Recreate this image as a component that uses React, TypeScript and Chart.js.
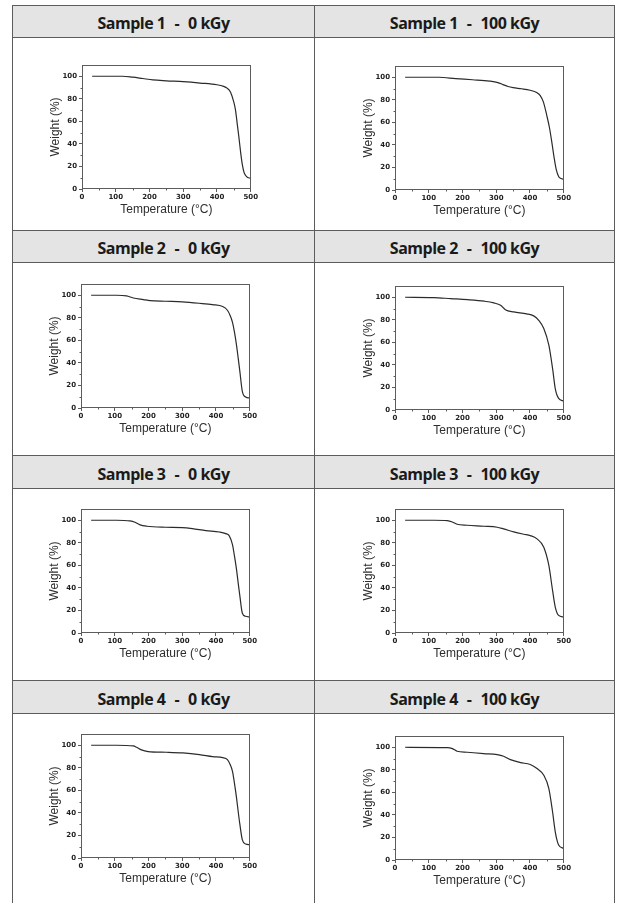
import React, { useEffect, useRef } from 'react';
import { Chart, registerables } from 'chart.js';

Chart.register(...registerables);

// ---- Data ----
const S1_0_T = [30, 120, 150, 180, 210, 250, 300, 350, 400, 420, 430, 440, 450, 455, 460, 465, 470, 475, 480, 485, 490, 500];
const S1_0_W = [100, 100, 99.2, 98, 96.8, 96, 95.2, 94, 92.5, 91, 89.5, 86, 77, 70, 58, 46, 33, 22, 15, 12, 10.5, 9.5];

const S1_100_T = [30, 130, 180, 230, 280, 305, 320, 335, 350, 375, 400, 420, 430, 440, 450, 458, 465, 472, 478, 485, 492, 500];
const S1_100_W = [100, 100, 98.8, 97.8, 96.6, 95.3, 93.5, 91.8, 90.8, 89.8, 88.5, 86.5, 84, 78, 66, 55, 42, 28, 18, 12, 10.2, 9.5];

const S2_0_T = [30, 105, 135, 155, 185, 205, 250, 300, 350, 390, 420, 434, 442, 449, 455, 461, 466, 471, 478, 488, 500];
const S2_0_W = [100, 100, 99.4, 97.6, 96.2, 95.3, 94.7, 94.1, 92.9, 91.7, 90, 86.7, 82, 76, 67, 55.6, 44, 32, 15, 9.8, 8.9];

const S2_100_T = [30, 115, 165, 215, 265, 293, 313, 327, 352, 390, 411, 426, 441, 456, 467, 475, 485, 500];
const S2_100_W = [100, 99.7, 98.8, 97.9, 96.5, 95, 92.9, 89, 87, 85.3, 83.5, 79.6, 72.3, 57.5, 36.9, 19, 10.3, 8];

const S3_0_T = [30, 105, 145, 160, 175, 195, 250, 300, 330, 370, 410, 429, 439, 449, 455, 461, 466, 471, 478, 488, 500];
const S3_0_W = [100, 100, 99.4, 98.2, 95.9, 94.7, 93.8, 93.5, 92.6, 90.8, 89.6, 88.2, 86.4, 78.4, 68, 56.2, 44, 32.5, 17.8, 14.8, 14.2];

const S3_100_T = [30, 115, 155, 170, 184, 214, 263, 303, 322, 352, 382, 401, 421, 441, 456, 467, 475, 485, 500];
const S3_100_W = [100, 100, 99.7, 98.5, 96.5, 95.6, 94.7, 93.8, 92.3, 89.7, 87.6, 86.4, 83.5, 76.1, 59.9, 37.8, 23, 15.6, 14.2];

const S4_0_T = [30, 105, 155, 165, 179, 199, 253, 302, 351, 390, 420, 434, 442, 449, 455, 461, 466, 471, 478, 488, 500];
const S4_0_W = [100, 100, 99.4, 98.2, 95.9, 94.4, 93.8, 93.2, 91.7, 89.9, 89, 87.3, 83, 76.9, 66, 53.3, 41, 29.6, 16.3, 12.4, 11.8];

const S4_100_T = [30, 155, 170, 184, 214, 263, 303, 322, 342, 372, 401, 421, 441, 456, 467, 475, 485, 500];
const S4_100_W = [100, 99.7, 98.8, 96.5, 95.6, 94.4, 93.5, 92, 89, 86.4, 84.7, 81.1, 75.2, 63.4, 42.8, 25, 13.3, 10.3];

const X_MAJOR = [0, 100, 200, 300, 400, 500];
const X_MINOR = [50, 150, 250, 350, 450];
const Y_MAJOR = [0, 20, 40, 60, 80, 100];
const Y_MINOR = [10, 30, 50, 70, 90];

const SAMPLE_NAMES = ['Sample 1', 'Sample 2', 'Sample 3', 'Sample 4'];
const DOSES = ['0 kGy', '100 kGy'];
const X_TITLE = 'Temperature (°C)';
const Y_TITLE = 'Weight (%)';

// ---- Layout ----
const PW = 169;
const PH = 124;
const HEADER_TOPS = [5, 230, 455, 680];
const HEADER_HEIGHTS = [33, 33, 34, 34];
const PLOTS = [
  { pl: 82, pt: 65, t: S1_0_T, w: S1_0_W },
  { pl: 395, pt: 66, t: S1_100_T, w: S1_100_W },
  { pl: 81, pt: 284, t: S2_0_T, w: S2_0_W },
  { pl: 395, pt: 286, t: S2_100_T, w: S2_100_W },
  { pl: 81, pt: 509, t: S3_0_T, w: S3_0_W },
  { pl: 395, pt: 509, t: S3_100_T, w: S3_100_W },
  { pl: 81, pt: 734, t: S4_0_T, w: S4_0_W },
  { pl: 395, pt: 736, t: S4_100_T, w: S4_100_W },
];

const FRAME = '#5c5c5c';

const framePlugin = {
  id: 'frame',
  afterDraw(chart: any) {
    const { ctx, chartArea: a, scales } = chart;
    ctx.save();
    ctx.strokeStyle = FRAME;
    ctx.lineWidth = 1;
    const l = Math.round(a.left) + 0.5;
    const t = Math.round(a.top) + 0.5;
    const r = Math.round(a.right) - 0.5;
    const b = Math.round(a.bottom) - 0.5;
    ctx.strokeRect(l, t, r - l, b - t);
    ctx.beginPath();
    for (const v of Y_MINOR) {
      const y = Math.round(scales.y.getPixelForValue(v)) + 0.5;
      ctx.moveTo(l - 2, y);
      ctx.lineTo(l, y);
    }
    for (const v of X_MINOR) {
      const x = Math.round(scales.x.getPixelForValue(v)) + 0.5;
      ctx.moveTo(x, b);
      ctx.lineTo(x, b + 2);
    }
    ctx.stroke();
    ctx.restore();
  },
};

function makeConfig(temps: number[], weights: number[]): any {
  const tickFont = { family: '"DejaVu Sans", sans-serif', weight: 'bold', size: 7 };
  const titleFont = { family: '"Liberation Sans", Arial, sans-serif', size: 12, weight: 'normal', lineHeight: 1.2 };
  return {
    type: 'line',
    data: {
      datasets: [
        {
          data: temps.map((t, i) => ({ x: t, y: weights[i] })),
          borderColor: '#2b2b2b',
          borderWidth: 1.2,
          pointRadius: 0,
          fill: false,
          cubicInterpolationMode: 'monotone',
        },
      ],
    },
    options: {
      responsive: false,
      maintainAspectRatio: false,
      animation: false,
      events: [],
      layout: { padding: { left: 11, top: 8, right: 4, bottom: 0 } },
      plugins: { legend: { display: false }, tooltip: { enabled: false } },
      scales: {
        x: {
          type: 'linear',
          min: 0,
          max: 500,
          afterBuildTicks: (s: any) => {
            s.ticks = X_MAJOR.map((v) => ({ value: v }));
          },
          afterFit: (s: any) => {
            s.height = 30;
          },
          border: { display: false },
          grid: { display: true, drawOnChartArea: false, drawTicks: true, tickLength: 3, color: FRAME },
          ticks: { font: tickFont, color: '#1e1e1e', padding: 1, maxRotation: 0, autoSkip: false },
          title: { display: true, text: X_TITLE, font: titleFont, color: '#2e2e2e', padding: { top: 0, bottom: 2 } },
        },
        y: {
          type: 'linear',
          min: 0,
          max: 110,
          afterBuildTicks: (s: any) => {
            s.ticks = Y_MAJOR.map((v) => ({ value: v }));
          },
          afterFit: (s: any) => {
            s.width = 34;
          },
          border: { display: false },
          grid: { display: true, drawOnChartArea: false, drawTicks: true, tickLength: 3, color: FRAME },
          ticks: { font: tickFont, color: '#1e1e1e', padding: 2, autoSkip: false },
          title: { display: true, text: Y_TITLE, font: titleFont, color: '#2e2e2e', padding: { top: 0, bottom: 0 } },
        },
      },
    },
    plugins: [framePlugin],
  };
}

function TgaChart({ pl, pt, temps, weights }: { pl: number; pt: number; temps: number[]; weights: number[] }) {
  const ref = useRef<HTMLCanvasElement | null>(null);
  useEffect(() => {
    const canvas = ref.current!;
    canvas.width = 230;
    canvas.height = 170;
    let chart = new Chart(canvas, makeConfig(temps, weights));
    const a = chart.chartArea;
    const w = Math.round(chart.width - (a.right - a.left) + PW);
    const h = Math.round(chart.height - (a.bottom - a.top) + PH);
    chart.destroy();
    canvas.width = w;
    canvas.height = h;
    canvas.style.width = w + 'px';
    canvas.style.height = h + 'px';
    chart = new Chart(canvas, makeConfig(temps, weights));
    const b = chart.chartArea;
    canvas.style.left = Math.round(pl - b.left) + 'px';
    canvas.style.top = Math.round(pt - b.top) + 'px';
    return () => chart.destroy();
  }, [pl, pt, temps, weights]);
  return <canvas ref={ref} style={{ position: 'absolute', left: pl - 45, top: pt - 8 }} />;
}

function HeaderText({ x0, x1, top, height, name, dose }: any) {
  return (
    <div
      style={{
        position: 'absolute',
        left: x0,
        width: x1 - x0,
        top: top,
        height: height,
        display: 'flex',
        justifyContent: 'center',
        alignItems: 'center',
        paddingTop: 3,
        boxSizing: 'border-box',
        fontFamily: '"Open Sans", sans-serif',
        fontWeight: 700,
        fontSize: 16,
        letterSpacing: '-0.5px',
        color: '#1a1a1a',
        whiteSpace: 'pre',
        lineHeight: '20px',
      }}
    >
      <span>{name}</span>
      <span style={{ margin: '0 9px' }}>-</span>
      <span>{dose}</span>
    </div>
  );
}

export default function App() {
  const vline = (x: number) => (
    <div key={'v' + x} style={{ position: 'absolute', left: x, top: 5, width: 1, height: 898, background: FRAME }} />
  );
  return (
    <div style={{ position: 'absolute', left: 0, top: 0, width: 617, height: 903, background: '#ffffff', overflow: 'hidden' }}>
      {HEADER_TOPS.map((top, r) => (
        <div
          key={'h' + r}
          style={{
            position: 'absolute',
            left: 12,
            width: 603,
            top,
            height: HEADER_HEIGHTS[r],
            boxSizing: 'border-box',
            background: '#e4e4e4',
            borderTop: '1px solid ' + FRAME,
            borderBottom: '1px solid ' + FRAME,
          }}
        />
      ))}
      {vline(12)}
      {vline(314)}
      {vline(614)}
      {HEADER_TOPS.map((top, r) => (
        <React.Fragment key={'t' + r}>
          <HeaderText x0={13} x1={314} top={top} height={HEADER_HEIGHTS[r]} name={SAMPLE_NAMES[r]} dose={DOSES[0]} />
          <HeaderText x0={315} x1={614} top={top} height={HEADER_HEIGHTS[r]} name={SAMPLE_NAMES[r]} dose={DOSES[1]} />
        </React.Fragment>
      ))}
      {PLOTS.map((p, i) => (
        <TgaChart key={'c' + i} pl={p.pl} pt={p.pt} temps={p.t} weights={p.w} />
      ))}
    </div>
  );
}
